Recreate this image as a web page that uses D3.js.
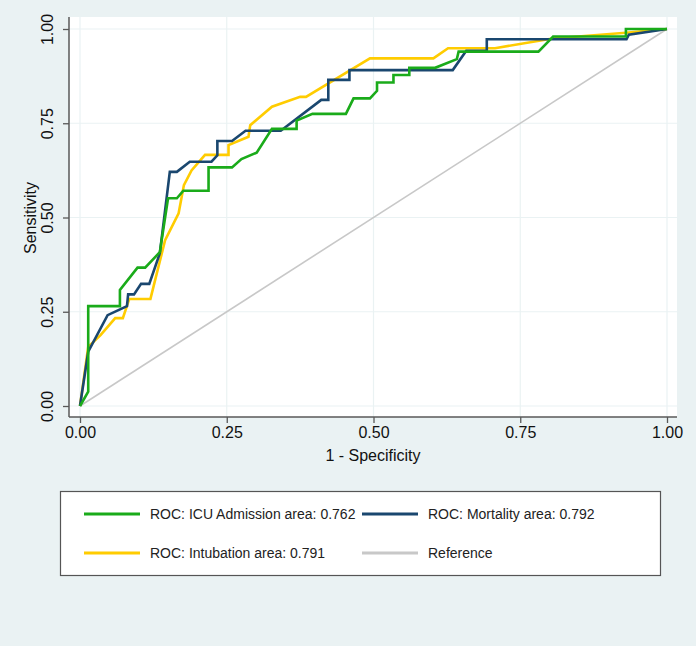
<!DOCTYPE html>
<html><head><meta charset="utf-8">
<script src="https://cdn.jsdelivr.net/npm/d3@7"></script>
<style>
html,body{margin:0;padding:0;background:#eaf2f3;}
svg{display:block;font-family:"Liberation Sans",Arial,sans-serif;}
</style></head>
<body>
<svg id="chart" width="696" height="646"></svg>
<script>
const ticks = [0, 0.25, 0.5, 0.75, 1];
const icuX = [0,0.014,0.014,0.068,0.068,0.098,0.111,0.136,0.150,0.165,0.176,0.219,0.219,0.259,0.275,0.301,0.327,0.369,0.369,0.396,0.453,0.466,0.494,0.506,0.506,0.534,0.534,0.561,0.561,0.605,0.642,0.645,0.781,0.806,0.930,0.930,1];
const icuY = [0,0.038,0.265,0.265,0.308,0.367,0.367,0.408,0.551,0.551,0.571,0.571,0.633,0.633,0.655,0.672,0.735,0.735,0.757,0.775,0.775,0.816,0.816,0.836,0.858,0.858,0.878,0.878,0.897,0.897,0.920,0.940,0.940,0.980,0.980,1,1];
const morX = [0,0.014,0.047,0.080,0.082,0.092,0.104,0.118,0.136,0.153,0.165,0.187,0.224,0.234,0.234,0.259,0.282,0.342,0.411,0.423,0.423,0.459,0.459,0.635,0.658,0.693,0.693,0.931,0.935,1];
const morY = [0,0.144,0.241,0.265,0.296,0.296,0.324,0.324,0.405,0.621,0.621,0.648,0.648,0.665,0.703,0.703,0.730,0.730,0.812,0.812,0.865,0.865,0.891,0.891,0.942,0.942,0.973,0.973,0.985,1];
const intX = [0,0.014,0.035,0.060,0.073,0.084,0.120,0.145,0.168,0.177,0.190,0.213,0.253,0.253,0.287,0.290,0.327,0.375,0.385,0.494,0.602,0.627,0.707,0.805,0.930,1];
const intY = [0,0.157,0.188,0.233,0.233,0.284,0.284,0.440,0.511,0.586,0.625,0.666,0.666,0.692,0.714,0.745,0.794,0.820,0.820,0.922,0.922,0.949,0.949,0.975,0.990,1];
const refX = [0,1];
const refY = [0,1];

const series = [
  {name:"ROC: ICU Admission area: 0.762", xs:icuX, ys:icuY, color:"#1aab1a", w:2.6},
  {name:"ROC: Mortality area: 0.792", xs:morX, ys:morY, color:"#1a476f", w:2.6},
  {name:"ROC: Intubation area: 0.791", xs:intX, ys:intY, color:"#ffcc00", w:2.6},
  {name:"Reference", xs:refX, ys:refY, color:"#c8c8c8", w:1.6}
];
const drawOrder = [3, 2, 1, 0];

const svg = d3.select("#chart");
const x = d3.scaleLinear().domain([0,1]).range([80,667]);
const y = d3.scaleLinear().domain([0,1]).range([406,29]);

// plot region
svg.append("rect").attr("x",69).attr("y",17).attr("width",608).attr("height",400).attr("fill","#fff");

// gridlines
svg.append("g").selectAll("line.gx").data(ticks).join("line")
  .attr("x1",d=>x(d)).attr("x2",d=>x(d)).attr("y1",17).attr("y2",417)
  .attr("stroke","#eaf2f3").attr("stroke-width",1.2);
svg.append("g").selectAll("line.gy").data(ticks).join("line")
  .attr("y1",d=>y(d)).attr("y2",d=>y(d)).attr("x1",69).attr("x2",677)
  .attr("stroke","#eaf2f3").attr("stroke-width",1.2);

// lines
const line = d3.line().x(d=>x(d[0])).y(d=>y(d[1]));
drawOrder.forEach(i=>{
  const s = series[i];
  svg.append("path").datum(s.xs.map((v,k)=>[v,s.ys[k]]))
    .attr("d",line).attr("fill","none").attr("stroke",s.color)
    .attr("stroke-width",s.w).attr("stroke-linejoin","miter");
});

// axes
const xAxis = d3.axisBottom(x).tickValues(ticks).tickFormat(d3.format(".2f")).tickSize(6).tickPadding(4);
const gx = svg.append("g").attr("transform","translate(0,417)").call(xAxis);
gx.select(".domain").remove();
gx.append("line").attr("x1",69).attr("x2",677).attr("y1",0).attr("y2",0).attr("stroke","#595959").attr("stroke-width",1.5);
gx.selectAll(".tick line").attr("stroke","#595959").attr("stroke-width",1.3);
gx.selectAll(".tick text").attr("fill","#111").attr("font-size",16).attr("font-family","Liberation Sans, Arial, sans-serif");

const yAxis = d3.axisLeft(y).tickValues(ticks).tickFormat(d3.format(".2f")).tickSize(6).tickPadding(4);
const gy = svg.append("g").attr("transform","translate(69,0)").call(yAxis);
gy.select(".domain").remove();
gy.append("line").attr("x1",0).attr("x2",0).attr("y1",17).attr("y2",417).attr("stroke","#595959").attr("stroke-width",1.5);
gy.selectAll(".tick line").attr("stroke","#595959").attr("stroke-width",1.3);
gy.selectAll(".tick text").attr("fill","#111").attr("font-size",16).attr("font-family","Liberation Sans, Arial, sans-serif")
  .attr("x",null).attr("dy",null).attr("text-anchor","middle")
  .attr("transform","translate(-16,0) rotate(-90)");

// axis titles
svg.append("text").attr("x",373).attr("y",461).attr("text-anchor","middle")
  .attr("font-size",16).attr("fill","#111").text("1 - Specificity");
svg.append("text").attr("transform","translate(36,218) rotate(-90)").attr("text-anchor","middle")
  .attr("font-size",16).attr("fill","#111").text("Sensitivity");

// legend
svg.append("rect").attr("x",60.5).attr("y",491.5).attr("width",600).attr("height",84)
  .attr("fill","#fff").attr("stroke","#555").attr("stroke-width",1.2);
const legPos = [[84,514],[362,514],[84,553],[362,553]];
series.forEach((s,i)=>{
  const [lx,ly] = legPos[i];
  svg.append("line").attr("x1",lx).attr("x2",lx+56).attr("y1",ly).attr("y2",ly)
    .attr("stroke",s.color).attr("stroke-width",3);
  svg.append("text").attr("x",lx+66).attr("y",ly+5).attr("font-size",14).attr("fill","#222").text(s.name);
});
</script>
</body></html>
